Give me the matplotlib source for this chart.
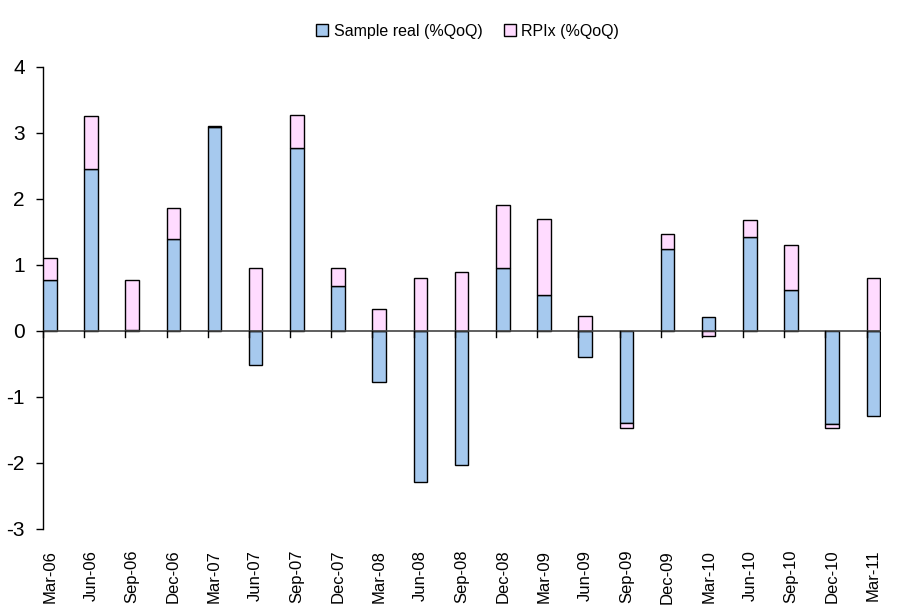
import matplotlib
matplotlib.use("Agg")
import matplotlib.pyplot as plt
import numpy as np

plt.rcParams['font.family'] = ['Liberation Sans', 'DejaVu Sans']

categories = ["Mar-06", "Jun-06", "Sep-06", "Dec-06", "Mar-07", "Jun-07", "Sep-07",
              "Dec-07", "Mar-08", "Jun-08", "Sep-08", "Dec-08", "Mar-09", "Jun-09",
              "Sep-09", "Dec-09", "Mar-10", "Jun-10", "Sep-10", "Dec-10", "Mar-11"]
sample_real = [0.77, 2.45, 0.02, 1.39, 3.09, -0.52, 2.77, 0.68, -0.78, -2.29, -2.03,
               0.96, 0.54, -0.40, -1.39, 1.24, 0.21, 1.43, 0.62, -1.41, -1.29]
rpix = [0.33, 0.80, 0.75, 0.47, 0.02, 0.95, 0.51, 0.27, 0.33, 0.81, 0.89,
        0.95, 1.15, 0.22, -0.08, 0.23, -0.07, 0.25, 0.68, -0.06, 0.80]
yticks = [-3, -2, -1, 0, 1, 2, 3, 4]

blue = '#A6C9EE'
pink = '#FFDBFF'

fig = plt.figure(figsize=(9.03, 6.15), dpi=100)
ax = fig.add_axes([43/903, 1-529/615, (881-43)/903, (529-67)/615])

x = np.arange(len(categories))
w = 0.33
sr = np.array(sample_real)
rp = np.array(rpix)
bottoms = np.where(rp >= 0, np.maximum(sr, 0), np.minimum(sr, 0))

ax.bar(x, sr, width=w, align='edge', color=blue, edgecolor='black', linewidth=1.0,
       label='Sample real (%QoQ)', zorder=3)
ax.bar(x, rp, width=w, bottom=bottoms, align='edge', color=pink, edgecolor='black',
       linewidth=1.0, label='RPIx (%QoQ)', zorder=3)

ax.axhline(0, color='#444444', linewidth=1.2, zorder=4)

ax.set_xlim(0, len(categories) - 1 + w + 0.02)
ax.set_ylim(-3, 4)
ax.set_yticks(yticks)
ax.set_yticklabels([str(v) for v in yticks], fontsize=15)
ax.tick_params(axis='y', direction='out', length=5, width=1, pad=8)

ax.set_xticks(x + w/2)
ax.set_xticklabels(categories, rotation=90, fontsize=12)
ax.tick_params(axis='x', length=0, pad=15)
for xi in x:
    ax.plot([xi, xi], [0, -0.09], color='black', linewidth=1, zorder=4, clip_on=False)

for s in ['top', 'right', 'bottom']:
    ax.spines[s].set_visible(False)
ax.spines['left'].set_linewidth(1)

leg = fig.legend(loc='upper center', bbox_to_anchor=(0.518, 0.985), ncol=2, frameon=False,
                 fontsize=11.5, handlelength=0.75, handleheight=0.75, handletextpad=0.35,
                 columnspacing=1.3)

fig.savefig('out.png', dpi=100)
